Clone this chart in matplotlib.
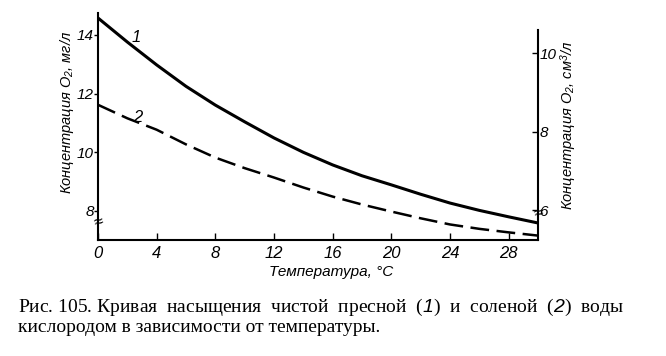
import numpy as np
import matplotlib.pyplot as plt

plt.rcParams['font.family'] = ['Liberation Sans', 'DejaVu Sans']
plt.rcParams['mathtext.fontset'] = 'custom'
plt.rcParams['mathtext.rm'] = 'Liberation Sans:italic'
plt.rcParams['mathtext.it'] = 'Liberation Serif:italic'

# Температура, °C
temp = [0, 2, 4, 6, 8, 10, 12, 14, 16, 18, 20, 22, 24, 26, 28, 30]
# кривая 1 - чистая пресная вода, мг/л
fresh = [14.58, 13.76, 12.98, 12.25, 11.61, 11.04, 10.49, 10.00, 9.57, 9.20, 8.89, 8.57, 8.27, 8.02, 7.80, 7.59]
# кривая 2 - соленая вода, мг/л
salt = [11.62, 11.16, 10.77, 10.27, 9.82, 9.46, 9.14, 8.80, 8.49, 8.22, 7.98, 7.75, 7.54, 7.39, 7.27, 7.16]

xticks = [0, 4, 8, 12, 16, 20, 24, 28]
lticks = [8, 10, 12, 14]
rticks = [6, 8, 10]

fig = plt.figure(figsize=(6.66, 3.56), dpi=100)
ax = fig.add_axes([98/666, 1-240/356, 440/666, 227/356])

ax.plot(temp, fresh, color='black', lw=2.2, solid_capstyle='butt')
ax.plot(temp, salt, color='black', lw=1.8, dashes=(7.5, 3))

ax.set_xlim(0, 30)
ax.set_ylim(7.01, 14.75)
ax.spines['top'].set_visible(False)
ax.spines['right'].set_visible(False)
ax.spines['left'].set_linewidth(1.5)
ax.spines['bottom'].set_linewidth(1.5)

ax.set_xticks(xticks)
ax.set_xticklabels([str(t) for t in xticks], style='italic', fontsize=12)
ax.tick_params(axis='x', direction='in', length=5, width=1, pad=4)
ax.set_yticks(lticks)
ax.set_yticklabels([str(t) for t in lticks], style='italic', fontsize=11)
ax.tick_params(axis='y', direction='out', length=3, width=1, pad=0)

ax.set_xlabel('Температура, °C', style='italic', fontsize=11)
ax.xaxis.set_label_coords(0.53, -0.11)
ax.set_ylabel('Концентрация O$_2$, мг/л', style='italic', fontsize=10.5)
ax.yaxis.set_label_coords(-0.05, 0.564)

# правая шкала, см3/л
ax2 = ax.twinx()
ax2.set_ylim(5.236, 11.02)
for s in ['top', 'left', 'bottom']:
    ax2.spines[s].set_visible(False)
ax2.spines['right'].set_linewidth(1.5)
ax2.spines['right'].set_bounds(5.236, 10.586)
ax2.set_yticks(rticks)
ax2.set_yticklabels([str(t) for t in rticks], style='italic', fontsize=11)
ax2.tick_params(axis='y', direction='in', length=4, width=1, pad=1)
ax2.set_ylabel('Концентрация O$_2$, см$^3$/л', style='italic', fontsize=10.5,
               rotation=90)
ax2.yaxis.set_label_coords(1.046, 0.507)

# разрывы осей
ax.text(0, 7.62, '≈', fontsize=12, ha='center', va='center', rotation=15,
        transform=ax.get_yaxis_transform(), clip_on=False)
ax2.text(1, 5.92, '≈', fontsize=12, ha='center', va='center', rotation=15,
         transform=ax2.get_yaxis_transform(), clip_on=False)

# номера кривых
ax.text(2.6, 13.9, '1', style='italic', fontsize=12, ha='center', va='center')
ax.text(2.7, 11.2, '2', style='italic', fontsize=12, ha='center', va='center')

fig.text(18/666, 1-307/356, 'Рис. 105. Кривая  насыщения  чистой  пресной  ($\\mathit{1}$)  и  соленой  ($\\mathit{2}$)  воды',
         family='Liberation Serif', fontsize=14, va='center')
fig.text(18/666, 1-327/356, 'кислородом в зависимости от температуры.',
         family='Liberation Serif', fontsize=14, va='center')

fig.savefig('out.png', dpi=100)
